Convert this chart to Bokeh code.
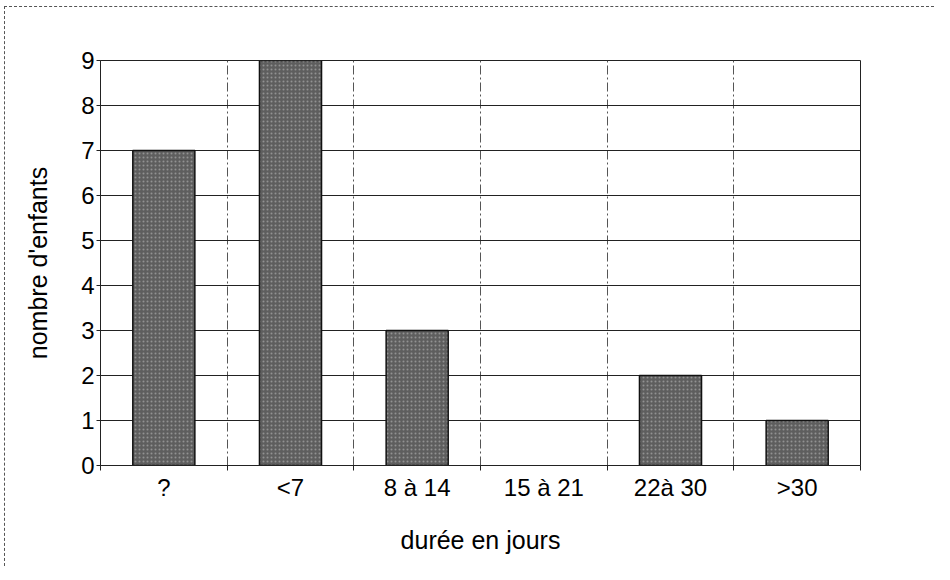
from bokeh.plotting import figure
from bokeh.models import ColumnDataSource, FixedTicker, Range1d
from bokeh.embed import file_html
from bokeh.resources import INLINE

categories = ["?", "<7", "8 à 14", "15 à 21", "22à 30", ">30"]
counts = [7, 9, 3, 0, 2, 1]
y_ticks = [0, 1, 2, 3, 4, 5, 6, 7, 8, 9]

centers = [i + 0.5 for i in range(len(categories))]
bounds = list(range(len(categories) + 1))
keep = [i for i, c in enumerate(counts) if c > 0]
src = ColumnDataSource(dict(x=[centers[i] for i in keep], top=[counts[i] for i in keep]))

FONT = "Liberation Sans"

p = figure(width=930, height=560, output_backend="svg", toolbar_location=None,
           x_range=Range1d(0, len(categories)), y_range=Range1d(0, 9),
           min_border_left=95, min_border_right=75, min_border_top=53, min_border_bottom=102)
p.margin = (6, 0, 0, 4)
p.styles = {"border-top": "1px dashed #555555", "border-left": "1px dashed #555555",
            "border-right": "none", "border-bottom": "none"}
p.background_fill_color = "white"
p.border_fill_color = "white"
p.outline_line_color = "#222222"
p.outline_line_width = 1

p.vbar(x="x", top="top", width=0.49, bottom=0, source=src,
       fill_color="#5e5e5e", line_color="#111111", line_width=1.5,
       hatch_pattern="dot", hatch_color="#d0d0d0", hatch_alpha=0.45, hatch_scale=4, hatch_weight=1)

# x axis
p.xaxis.ticker = FixedTicker(ticks=centers, minor_ticks=bounds)
p.xaxis.major_label_overrides = {c: lab for c, lab in zip(centers, categories)}
p.xaxis.major_tick_line_color = None
p.xaxis.minor_tick_line_color = "#222222"
p.xaxis.minor_tick_out = 5
p.xaxis.minor_tick_in = 0
p.xaxis.axis_line_color = "#222222"
p.xaxis.major_label_text_font = FONT
p.xaxis.major_label_text_font_size = "24px"
p.xaxis.major_label_text_color = "black"
p.xaxis.major_label_standoff = 2
p.xaxis.axis_label = "durée en jours"
p.xaxis.axis_label_text_font = FONT
p.xaxis.axis_label_text_font_size = "25px"
p.xaxis.axis_label_text_font_style = "normal"
p.xaxis.axis_label_standoff = 22
p.xaxis.axis_label_text_color = "black"

# y axis
p.yaxis.ticker = FixedTicker(ticks=y_ticks)
p.yaxis.minor_tick_line_color = None
p.yaxis.major_tick_out = 4
p.yaxis.major_tick_in = 0
p.yaxis.major_tick_line_color = "#222222"
p.yaxis.axis_line_color = "#222222"
p.yaxis.major_label_text_font = FONT
p.yaxis.major_label_text_font_size = "24px"
p.yaxis.major_label_text_color = "black"
p.yaxis.major_label_standoff = 2
p.yaxis.axis_label = "nombre d'enfants"
p.yaxis.axis_label_text_font = FONT
p.yaxis.axis_label_text_font_size = "25px"
p.yaxis.axis_label_text_font_style = "normal"
p.yaxis.axis_label_standoff = 26
p.yaxis.axis_label_text_color = "black"

# grids
p.xgrid.ticker = FixedTicker(ticks=bounds)
p.xgrid.grid_line_color = "#555555"
p.xgrid.grid_line_dash = "9 3 2 3"
p.xgrid.grid_line_width = 1
p.ygrid.ticker = FixedTicker(ticks=y_ticks)
p.ygrid.grid_line_color = "#222222"
p.ygrid.grid_line_width = 1

open("out.html", "w").write(file_html(p, INLINE))
